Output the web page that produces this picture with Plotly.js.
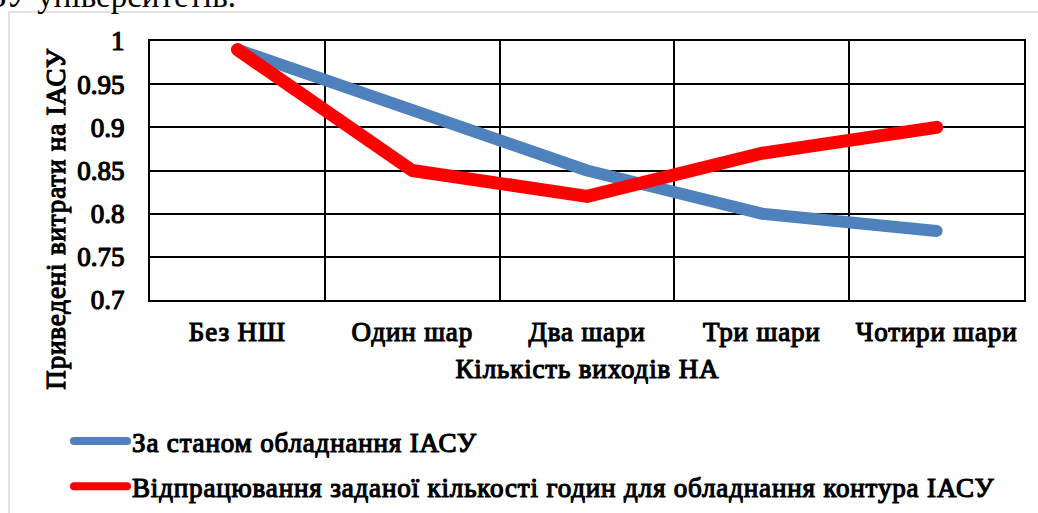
<!DOCTYPE html>
<html>
<head>
<meta charset="utf-8">
<script src="https://cdn.plot.ly/plotly-3.0.1.min.js"></script>
<style>
html,body{margin:0;padding:0;background:#fff;}
#chart{width:1038px;height:513px;}
.scatterlayer path.js-line, .legendlines path { stroke-linejoin: round; stroke-linecap: round; }
.xtick text, .ytick text, .legendtext, .annotation:not([data-index="2"]) .annotation-text {
  stroke: #000; stroke-width: 1.2px; stroke-linejoin: round;
}
.xtick text, .legendtext, .annotation:not([data-index="2"]) .annotation-text { letter-spacing: 0.85px; }
</style>
</head>
<body>
<div id="chart"></div>
<script>
const categories = ["Без НШ", "Один шар", "Два шари", "Три шари", "Чотири шари"];
const seriesBlue = [0.99, 0.92, 0.85, 0.80, 0.78];
const seriesRed = [0.99, 0.85, 0.82, 0.87, 0.90];
const nameBlue = "За станом обладнання ІАСУ";
const nameRed = "Відпрацювання заданої кількості годин для обладнання контура ІАСУ";
const yTickVals = [0.7, 0.75, 0.8, 0.85, 0.9, 0.95, 1];
const yTickText = ["0.7", "0.75", "0.8", "0.85", "0.9", "0.95", "1"];
const xTitle = "Кількість виходів НА";
const yTitle = "Приведені витрати на ІАСУ";
const topText = "ЗУ університетів.";

const FONT = "Liberation Serif";
const FS = 27;
const W = 1038, H = 513;
const L = 150, R = 14, T = 41, B = 213;
const pw = W - L - R, ph = H - T - B;
const px = x => (x - L) / pw;
const py = y => (H - B - y) / ph;

const traces = [
  {x: categories, y: seriesBlue, name: nameBlue, type: "scatter", mode: "lines",
   line: {color: "#4F81BD", width: 12}, legendgroup: "a"},
  {x: categories, y: seriesRed, name: nameRed, type: "scatter", mode: "lines",
   line: {color: "#FF0000", width: 13}, legendgroup: "b"}
];

const layout = {
  width: W, height: H,
  margin: {l: L, r: R, t: T, b: B, pad: 0, autoexpand: false},
  paper_bgcolor: "#fff", plot_bgcolor: "#fff",
  font: {family: FONT, color: "#000", size: FS},
  showlegend: true,
  legend: {
    x: px(62), y: py(417), xanchor: "left", yanchor: "top",
    orientation: "v", tracegroupgap: 7, itemwidth: 60,
    font: {family: FONT, size: FS, color: "#000"},
    bgcolor: "rgba(0,0,0,0)"
  },
  xaxis: {
    type: "category", range: [-0.5, 4.5], tickson: "boundaries",
    showgrid: true, gridcolor: "#000", gridwidth: 2,
    showline: true, linecolor: "#000", linewidth: 2, mirror: true,
    ticks: "", ticklabelstandoff: 7, automargin: false,
    tickfont: {family: FONT, size: FS, color: "#000"},
    zeroline: false, fixedrange: true
  },
  yaxis: {
    range: [0.7, 1.0], tickvals: yTickVals, ticktext: yTickText,
    showgrid: true, gridcolor: "#000", gridwidth: 2,
    showline: true, linecolor: "#000", linewidth: 2, mirror: true,
    ticks: "", ticklabelstandoff: 18, automargin: false,
    tickfont: {family: FONT, size: FS, color: "#000"},
    zeroline: false, fixedrange: true
  },
  shapes: [
    {type: "rect", xref: "paper", yref: "paper",
     x0: px(9), x1: px(1050), y0: py(530), y1: py(12),
     line: {color: "#d9d9d9", width: 1.5}, fillcolor: "rgba(0,0,0,0)", layer: "below"}
  ],
  annotations: [
    {text: xTitle, xref: "paper", yref: "paper", x: px(587), y: py(369),
     xanchor: "center", yanchor: "middle", showarrow: false,
     font: {family: FONT, size: FS, color: "#000"}},
    {text: yTitle, xref: "paper", yref: "paper", x: px(56), y: py(219),
     xanchor: "center", yanchor: "middle", textangle: -90, showarrow: false,
     font: {family: FONT, size: FS, color: "#000"}},
    {text: topText, xref: "paper", yref: "paper", x: px(-12), y: py(16),
     xanchor: "left", yanchor: "bottom", showarrow: false,
     font: {family: FONT, size: 33, color: "#000"}}
  ]
};

function fixLegend() {
  document.querySelectorAll("g.legendlines path").forEach(p => {
    p.setAttribute("d", "M12,0h53");
    p.style.strokeWidth = "8px";
  });
}

Plotly.newPlot("chart", traces, layout, {displayModeBar: false, staticPlot: true}).then(gd => {
  fixLegend();
  gd.on("plotly_afterplot", fixLegend);
  requestAnimationFrame(fixLegend);
  setTimeout(fixLegend, 50);
});
</script>
</body>
</html>
